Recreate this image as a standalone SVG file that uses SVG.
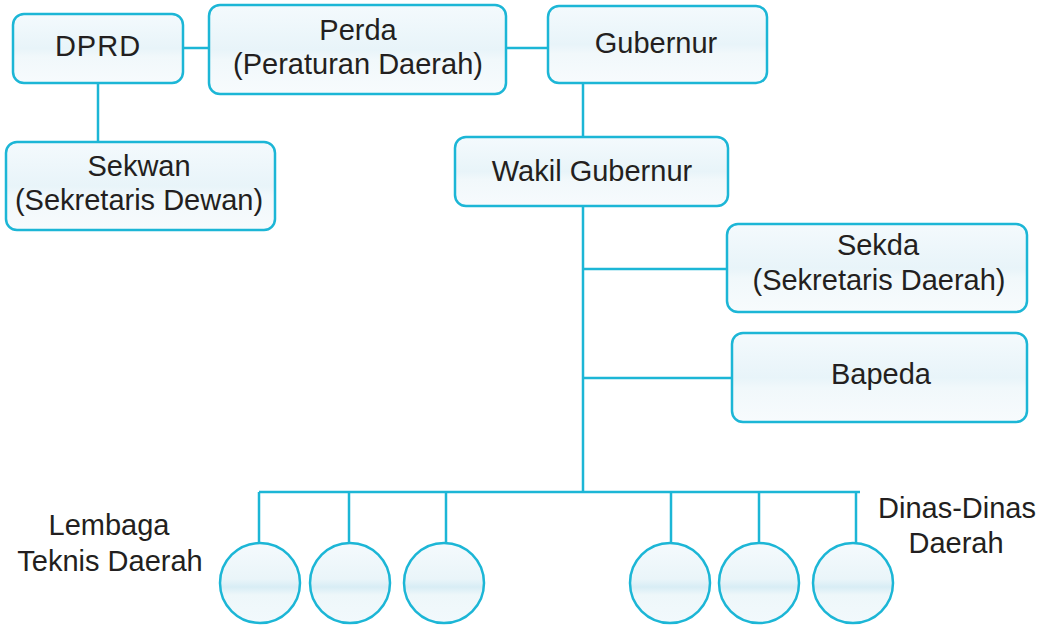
<svg xmlns="http://www.w3.org/2000/svg" width="1047" height="625" viewBox="0 0 1047 625">
<defs>
<linearGradient id="bg" x1="0" y1="0" x2="0" y2="1">
<stop offset="0" stop-color="#f4fafd"/>
<stop offset="0.5" stop-color="#e8f4f9"/>
<stop offset="0.62" stop-color="#f1f8fb"/>
<stop offset="1" stop-color="#f7fbfd"/>
</linearGradient>
<linearGradient id="cg" x1="0" y1="0" x2="0" y2="1">
<stop offset="0" stop-color="#f5fafd"/>
<stop offset="0.45" stop-color="#eaf5f9"/>
<stop offset="0.55" stop-color="#d8edf5"/>
<stop offset="0.65" stop-color="#eef7fa"/>
<stop offset="1" stop-color="#f2f9fc"/>
</linearGradient>
</defs>
<style>
.box{fill:url(#bg);stroke:#1cb6d6;stroke-width:2.5}
.cir{fill:url(#cg);stroke:#1cb6d6;stroke-width:2.5}
.ln{stroke:#1cb6d6;stroke-width:2.5;fill:none}
text{font-family:"Liberation Sans",Arial,sans-serif;font-size:29px;fill:#231f20;text-anchor:middle}
</style>
<rect width="1047" height="625" fill="#ffffff"/>
<g id="connectors">
<line class="ln" x1="183" y1="48" x2="209" y2="48"/>
<line class="ln" x1="98" y1="83" x2="98" y2="142"/>
<line class="ln" x1="506" y1="48" x2="548" y2="48"/>
<line class="ln" x1="583" y1="83" x2="583" y2="137"/>
<line class="ln" x1="583" y1="206" x2="583" y2="492"/>
<line class="ln" x1="583" y1="269" x2="727" y2="269"/>
<line class="ln" x1="583" y1="378" x2="732" y2="378"/>
<line class="ln" x1="259" y1="492" x2="860" y2="492"/>
<line class="ln" x1="259" y1="492" x2="259" y2="543"/>
<line class="ln" x1="349" y1="492" x2="349" y2="543"/>
<line class="ln" x1="446" y1="492" x2="446" y2="543"/>
<line class="ln" x1="671" y1="492" x2="671" y2="543"/>
<line class="ln" x1="759" y1="492" x2="759" y2="543"/>
<line class="ln" x1="856" y1="492" x2="856" y2="543"/>
</g>
<g id="dprd">
<rect class="box" x="13" y="14" width="170" height="69" rx="11"/>
<text x="98" y="56" letter-spacing="1">DPRD</text>
</g>
<g id="perda">
<rect class="box" x="209" y="5" width="297" height="89" rx="11"/>
<text x="358" y="40">Perda</text>
<text x="358" y="74">(Peraturan Daerah)</text>
</g>
<g id="gubernur">
<rect class="box" x="548" y="6" width="219" height="77" rx="11"/>
<text x="656" y="53">Gubernur</text>
</g>
<g id="sekwan">
<rect class="box" x="6" y="142" width="269" height="88" rx="11"/>
<text x="139" y="176">Sekwan</text>
<text x="139" y="210">(Sekretaris Dewan)</text>
</g>
<g id="wakil-gubernur">
<rect class="box" x="455" y="137" width="273" height="69" rx="11"/>
<text x="592" y="181">Wakil Gubernur</text>
</g>
<g id="sekda">
<rect class="box" x="727" y="224" width="300" height="88" rx="11"/>
<text x="878" y="255">Sekda</text>
<text x="879" y="290">(Sekretaris Daerah)</text>
</g>
<g id="bapeda">
<rect class="box" x="732" y="333" width="295" height="89" rx="11"/>
<text x="881" y="384">Bapeda</text>
</g>
<g id="lembaga-teknis-daerah">
<text x="109" y="535">Lembaga</text>
<text x="110" y="571">Teknis Daerah</text>
<circle class="cir" cx="260" cy="583" r="40"/>
<circle class="cir" cx="350" cy="583" r="40"/>
<circle class="cir" cx="444" cy="583" r="40"/>
</g>
<g id="dinas-dinas-daerah">
<text x="957" y="518">Dinas-Dinas</text>
<text x="956" y="553">Daerah</text>
<circle class="cir" cx="670" cy="583" r="40"/>
<circle class="cir" cx="759" cy="583" r="40"/>
<circle class="cir" cx="853" cy="583" r="40"/>
</g>
</svg>
